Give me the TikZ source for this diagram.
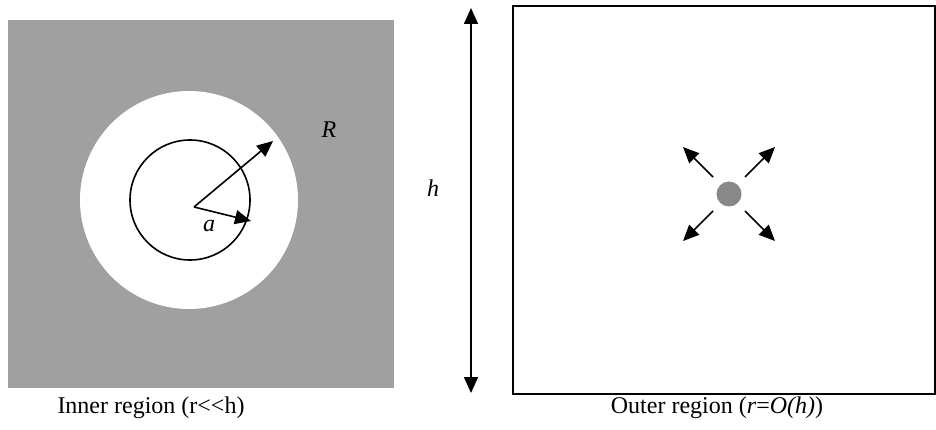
\documentclass[tikz,border=0pt]{standalone}
\usepackage{fontspec}
\setmainfont{Liberation Serif}
\usetikzlibrary{arrows.meta, calc}
\begin{document}
\begin{tikzpicture}[x=1pt, y=-1pt, >={Triangle[length=16pt, width=14pt]}, font=\fontsize{24}{28}\selectfont]
		\definecolor{shadegray}{RGB}{160, 160, 160}
		\definecolor{dotgray}{RGB}{136, 136, 136}
		\useasboundingbox (0,0) rectangle (936,430);
		
		% 内区域
		\fill[shadegray] (8,20) rectangle (394,388);
		\fill[white] (189,200) circle (109);
		\draw[line width=1.6pt] (190,200) circle (60);
		\coordinate (o) at (194,207);
		\coordinate (Rtip) at (273,141);
		\coordinate (atip) at (251,221);
		\draw[->, line width=1.6pt] (o) -- (Rtip);
		\draw[->, line width=1.6pt] (o) -- (atip);
		\node (alab) at (209,226) {\textit{a}};
		\node (Rlab) at (329,130) {\textit{R}};
		
		% 高度 h
		\coordinate (htop) at (471,8);
		\coordinate (hbot) at (471,393);
		\draw[<->, line width=1.6pt] (htop) -- (hbot);
		\node (hlab) at (433,188) {\textit{h}};
		
		% 外区域
		\draw[line width=1.8pt] (513,6) rectangle (935,394);
		\node[circle, fill=dotgray, inner sep=0pt, minimum size=25pt] (src) at (729,194) {};
		\foreach \dx/\dy in {-1/-1, 1/-1, -1/1, 1/1}
			\draw[->, line width=1.6pt] ($(src)+(\dx*16,\dy*17)$) -- ($(src)+(\dx*46,\dy*47)$);
		
		% 标题
		\node (inner) at (151,408) {Inner region (r{<}{<}h)};
		\node (outer) at (717,408) {Outer region (\textit{r}=\textit{O(h)})};
	\end{tikzpicture}
\end{document}
